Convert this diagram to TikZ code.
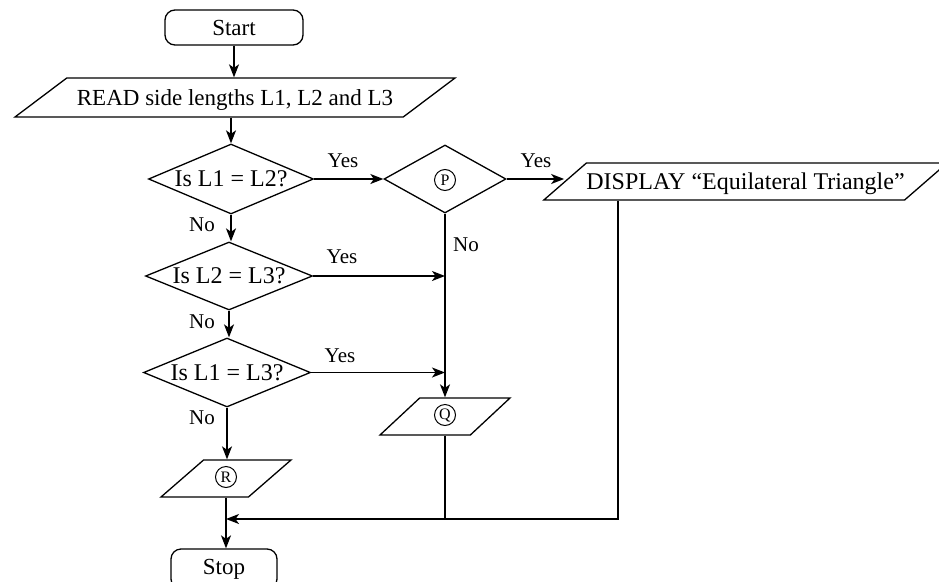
\documentclass[tikz,border=0pt]{standalone}
\usepackage{fontspec}
\setmainfont{Liberation Serif}
\usetikzlibrary{shapes.geometric,arrows.meta}
\begin{document}
\begin{tikzpicture}[x=1pt,y=-1pt,
  every node/.style={font=\fontsize{23}{25}\selectfont},
  base/.style={draw, line width=1.3pt, inner sep=0pt},
  term/.style={base, rectangle, rounded corners=10pt},
  dec/.style={base, diamond, shape aspect=2.4},
  io/.style={base, trapezium, trapezium stretches body, inner xsep=0pt, inner ysep=0pt, text height=26pt, text depth=11pt},
  lbl/.style={font=\fontsize{21}{23}\selectfont, inner sep=0pt},
  circ/.style={draw, circle, line width=1pt, inner sep=0pt, minimum size=21pt, font=\fontsize{16}{18}\selectfont},
  flow/.style={line width=1.5pt, -{Stealth[length=13pt,width=10pt,inset=3.5pt]}},
  plain/.style={line width=1.3pt}
]
\useasboundingbox (0,0) rectangle (939,581);
\clip (0,0) rectangle (939,581);

% terminals
\node[term, minimum width=138pt, minimum height=35pt] (start) at (234,27.5) {Start};
\node[term, minimum width=106pt, minimum height=40pt] (stop) at (224,569) {Stop};

% input / output
\node[io, trapezium left angle=37, trapezium right angle=143, text height=27pt, text depth=12pt, minimum width=440pt] (read) at (235,97.5) {READ side lengths L1, L2 and L3};
\node[io, trapezium left angle=41, trapezium right angle=139, minimum width=385pt] (disp) at (745.5,181.5) {\fontsize{24}{26}\selectfont DISPLAY “Equilateral Triangle”};
\node[io, trapezium left angle=43, trapezium right angle=137, minimum width=130pt] (Q) at (445,416.5) {};
\node[io, trapezium left angle=41, trapezium right angle=139, minimum width=130pt] (R) at (226,478.5) {};
\node[circ] (qc) at (445,415) {Q};
\node[circ] (rc) at (226,477) {R};

% decisions
\node[dec, minimum width=165pt, minimum height=70pt] (d1) at (231,179) {\fontsize{24}{26}\selectfont Is L1 = L2?};
\node[dec, minimum width=122pt, minimum height=68pt] (P) at (445,179) {};
\node[circ] (pc) at (445,180) {P};
\node[dec, minimum width=167pt, minimum height=68pt] (d2) at (229,276) {\fontsize{24}{26}\selectfont Is L2 = L3?};
\node[dec, minimum width=167pt, minimum height=69pt] (d3) at (227,372.5) {\fontsize{24}{26}\selectfont Is L1 = L3?};

% helper coordinates
\coordinate (dj) at (618,0);
\coordinate (j) at (226,519);

% labels
\node[lbl] (y1) at (343,161) {Yes};
\node[lbl] (y0) at (536,161) {Yes};
\node[lbl] (y2) at (342,257) {Yes};
\node[lbl] (y3) at (340,356) {Yes};
\node[lbl] (n1) at (202,225) {No};
\node[lbl] (n0) at (466,245) {No};
\node[lbl] (n2) at (202,322) {No};
\node[lbl] (n3) at (202,418) {No};

% connectors
\draw[flow] (start.south) -- (start.south |- read.north);
\draw[flow] (d1.north |- read.south) -- (d1.north);
\draw[flow] (d1.east) -- (P.west);
\draw[flow] (P.east) -- (P.east -| disp.west);
\draw[flow] (d1.south) -- (d1.south |- d2.north);
\draw[flow] (d2.east) -- (d2.east -| P.south);
\draw[flow] (d2.south) -- (d2.south |- d3.north);
\draw[flow] (d3.east) -- (d3.east -| P.south);
\draw[flow] (P.south) -- (Q.north);
\draw[flow] (d3.south) -- (d3.south |- R.north);
\draw[flow] (R.south) -- (R.south |- stop.north);
\draw[plain] (Q.south) -- (Q.south |- j);
\draw[flow] (dj |- disp.south) -- (dj |- j) -- (j);
\end{tikzpicture}
\end{document}
